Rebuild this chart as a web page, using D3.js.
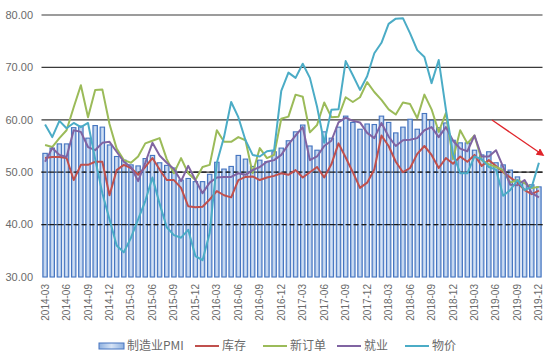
<!DOCTYPE html>
<html><head><meta charset="utf-8">
<script src="https://cdn.jsdelivr.net/npm/d3@7"></script>
<style>
html,body{margin:0;padding:0;background:#fff;}
svg{display:block;}
</style></head>
<body>
<svg id="chart" width="550" height="357"></svg>
<script>
// categories: monthly from 2014-03 to 2019-12
const months = [];
for (let y = 2014; y <= 2019; y++) {
  for (let m = 1; m <= 12; m++) {
    if (y === 2014 && m < 3) continue;
    months.push(y + "-" + String(m).padStart(2, "0"));
  }
}
const yTicks = [30, 40, 50, 60, 70, 80];
const seriesNames = ["制造业PMI", "库存", "新订单", "就业", "物价"];

const pmi = [53.6,54.6,55.4,55.4,58.5,58.8,56.5,58.9,58.6,55.2,53.0,52.3,51.4,51.2,52.6,53.2,51.8,51.3,50.8,48.5,48.8,48.2,48.2,49.6,51.9,50.6,51.1,53.2,52.5,51.1,52.3,52.0,53.9,54.6,56.0,57.7,59.0,55.0,54.2,57.7,56.5,58.6,60.7,59.5,58.2,59.2,59.1,60.7,59.5,57.5,58.6,60.1,58.2,61.2,59.9,58.5,59.4,56.1,55.6,55.6,54.2,53.3,53.9,51.8,51.4,50.4,49.1,47.9,47.6,47.2];
const inventory = [52.7,52.9,52.9,52.7,48.5,51.4,51.4,52.0,52.0,45.6,50.4,51.4,50.8,49.5,51.0,52.7,50.5,48.5,48.5,47.0,43.5,43.3,43.4,44.8,46.4,45.6,45.2,48.5,49.1,49.2,48.5,49.0,49.3,49.8,49.5,50.4,49.0,50.0,51.0,49.0,51.5,55.5,52.8,50.0,47.0,48.0,50.5,57.0,55.0,52.0,50.0,50.8,53.5,55.0,53.3,50.8,52.7,51.6,53.0,52.0,53.3,51.2,52.3,51.2,50.0,49.0,48.0,46.6,45.8,46.5];
const newOrders = [55.2,54.8,56.5,58.0,62.4,66.6,60.5,65.7,65.8,59.2,54.5,52.3,51.8,53.0,55.5,56.0,56.5,52.5,49.8,52.7,49.8,48.5,51.0,51.4,58.0,55.8,55.8,56.7,56.1,49.8,54.6,52.7,53.3,60.2,60.6,64.8,64.4,57.6,59.0,63.3,60.5,60.6,64.3,63.4,64.3,67.2,65.3,63.8,62.0,61.0,63.3,63.0,60.3,64.8,62.0,57.7,61.3,52.5,58.0,55.5,57.0,52.3,51.5,51.0,50.4,48.0,48.5,47.9,47.0,47.2];
const employment = [52.0,54.6,53.3,52.9,58.0,57.7,54.8,54.2,55.6,55.8,53.9,52.0,51.0,48.3,51.8,55.6,53.2,51.8,50.6,48.3,51.2,48.5,46.0,48.0,49.0,49.1,49.1,49.8,49.5,50.4,51.0,52.0,52.3,53.3,55.3,57.0,58.6,52.3,53.0,55.0,56.0,59.5,60.4,59.8,59.5,57.5,56.5,59.4,56.8,55.0,56.1,56.2,56.5,58.0,58.6,56.7,58.6,56.0,54.5,54.0,57.0,53.0,53.0,54.2,51.0,47.6,47.5,48.5,46.0,45.2];
const prices = [59.1,56.7,59.8,58.4,59.4,58.6,59.4,52.5,46.0,41.0,36.0,34.7,37.5,41.0,44.5,49.0,44.0,39.5,38.0,37.5,39.0,34.0,33.2,38.4,51.8,56.7,63.4,60.5,56.1,53.3,53.0,54.0,54.2,65.5,69.0,68.0,70.7,68.0,62.5,55.6,61.9,62.0,71.2,68.5,65.7,68.3,72.7,74.7,78.3,79.3,79.4,76.5,73.3,72.0,67.0,71.4,62.0,53.5,49.8,49.8,53.0,52.5,51.0,50.5,45.5,46.6,48.5,46.6,47.2,51.8];

const lineSeries = [
  {name: "库存", values: inventory, color: "#c0504d"},
  {name: "新订单", values: newOrders, color: "#9bbb59"},
  {name: "就业", values: employment, color: "#8064a2"},
  {name: "物价", values: prices, color: "#4bacc6"}
];

const svg = d3.select("#chart");
const x = d3.scaleBand().domain(months).range([41.5, 542.5]).padding(0);
const y = d3.scaleLinear().domain([30, 80]).range([277, 15]);
const bw = x.bandwidth();
const cx = m => x(m) + bw / 2;

// solid gridlines (behind bars)
svg.append("g").selectAll("line").data(yTicks.filter(t => t > 30)).join("line")
  .attr("x1", 41.5).attr("x2", 542.5)
  .attr("y1", d => y(d)).attr("y2", d => y(d))
  .attr("stroke", "#3a3a3a").attr("stroke-width", 1.2);

// y labels
svg.append("g").selectAll("text").data(yTicks).join("text")
  .attr("x", 33).attr("y", d => y(d)).attr("dy", "0.35em")
  .attr("text-anchor", "end")
  .attr("font-family", "Liberation Sans, Arial, sans-serif")
  .attr("font-size", 11).attr("fill", "#6a6a6a")
  .text(d => d.toFixed(2));

// gradient for bars
const defs = svg.append("defs");
const grad = defs.append("linearGradient").attr("id", "barGrad").attr("x1", 0).attr("x2", 1).attr("y1", 0).attr("y2", 0);
grad.append("stop").attr("offset", "0%").attr("stop-color", "#8fb1e0");
grad.append("stop").attr("offset", "50%").attr("stop-color", "#d6e3f5");
grad.append("stop").attr("offset", "100%").attr("stop-color", "#8fb1e0");

const barW = bw * 0.62;
svg.append("g").selectAll("rect").data(months).join("rect")
  .attr("x", d => cx(d) - barW / 2)
  .attr("y", (d, i) => y(pmi[i]))
  .attr("width", barW)
  .attr("height", (d, i) => y(30) - y(pmi[i]))
  .attr("fill", "url(#barGrad)")
  .attr("stroke", "#4675c0").attr("stroke-width", 1.1);

// dashed lines at 40 and 50
svg.append("g").selectAll("line").data([40, 50]).join("line")
  .attr("x1", 41.5).attr("x2", 542.5)
  .attr("y1", d => y(d)).attr("y2", d => y(d))
  .attr("stroke", "#1a1a1a").attr("stroke-width", 1.3)
  .attr("stroke-dasharray", "5,3");

// lines
const line = d3.line().x((d, i) => cx(months[i])).y(d => y(d));
svg.append("g").selectAll("path").data(lineSeries).join("path")
  .attr("d", d => line(d.values))
  .attr("fill", "none")
  .attr("stroke", d => d.color)
  .attr("stroke-width", 2)
  .attr("stroke-linejoin", "round");

// x tick labels
const tickMonths = months.filter((m, i) => i % 3 === 0);
svg.append("g").selectAll("text").data(tickMonths).join("text")
  .attr("transform", d => `translate(${cx(d) + 3.5},284) rotate(-90)`)
  .attr("text-anchor", "end")
  .attr("font-family", "Liberation Sans, Arial, sans-serif")
  .attr("font-size", 10).attr("fill", "#6a6a6a")
  .text(d => d);

// red arrow
defs.append("marker").attr("id", "arrow").attr("viewBox", "0 0 10 10")
  .attr("refX", 8).attr("refY", 5).attr("markerWidth", 6).attr("markerHeight", 6)
  .attr("orient", "auto")
  .append("path").attr("d", "M0,0 L10,5 L0,10 z").attr("fill", "#e0242a");
svg.append("line")
  .attr("x1", 492).attr("y1", 120).attr("x2", 543).attr("y2", 155)
  .attr("stroke", "#e0242a").attr("stroke-width", 1.3)
  .attr("marker-end", "url(#arrow)");

// legend
const legY = 346;
const lg = svg.append("g").attr("font-family", "Noto Sans CJK SC, sans-serif").attr("font-size", 12).attr("fill", "#6a6a6a");
lg.append("rect").attr("x", 99).attr("y", legY - 3).attr("width", 25).attr("height", 6)
  .attr("fill", "url(#barGrad)").attr("stroke", "#4675c0").attr("stroke-width", 1);
lg.append("text").attr("x", 127).attr("y", legY).attr("dy", "0.35em").text(seriesNames[0]);
const legX = [{x1: 195, x2: 219, tx: 222}, {x1: 263, x2: 287, tx: 290}, {x1: 337, x2: 361, tx: 364}, {x1: 405, x2: 429, tx: 432}];
lineSeries.forEach((s, i) => {
  lg.append("line").attr("x1", legX[i].x1).attr("x2", legX[i].x2).attr("y1", legY).attr("y2", legY)
    .attr("stroke", s.color).attr("stroke-width", 2);
  lg.append("text").attr("x", legX[i].tx).attr("y", legY).attr("dy", "0.35em").text(s.name);
});
</script>
</body></html>
